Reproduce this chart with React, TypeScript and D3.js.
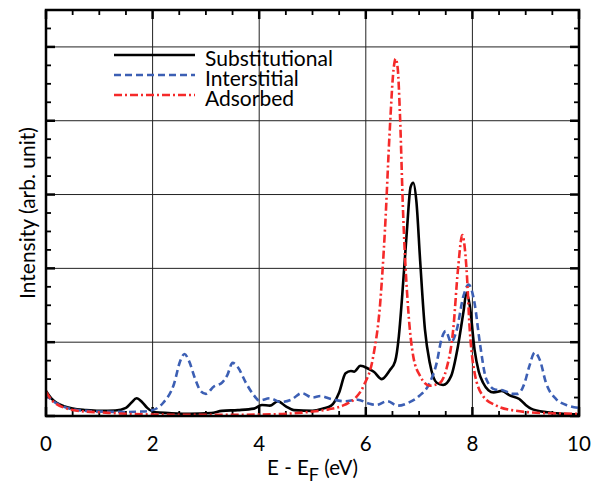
import React from "react";
import * as d3 from "d3";

const xTicks = [0, 2, 4, 6, 8, 10];
const seriesNames = ["Substitutional", "Interstitial", "Adsorbed"];

const substitutional: [number, number][] = [
  [0, 0.34], [0.1, 0.24], [0.2, 0.18], [0.35, 0.13], [0.5, 0.1], [0.75, 0.08], [1.0, 0.07], [1.3, 0.075],
  [1.5, 0.11], [1.6, 0.18], [1.7, 0.24], [1.8, 0.19], [1.9, 0.11], [2.05, 0.05], [2.3, 0.04], [2.7, 0.03],
  [3.1, 0.04], [3.3, 0.07], [3.6, 0.08], [3.9, 0.1], [4.05, 0.15], [4.2, 0.14], [4.35, 0.2], [4.5, 0.13],
  [4.65, 0.08], [5.0, 0.07], [5.2, 0.1], [5.35, 0.14], [5.5, 0.32], [5.62, 0.58], [5.72, 0.61], [5.78, 0.6],
  [5.9, 0.68], [6.05, 0.64], [6.15, 0.6], [6.3, 0.5], [6.45, 0.62], [6.55, 0.74], [6.62, 1.08], [6.68, 1.6],
  [6.77, 2.5], [6.84, 3.1], [6.89, 3.16], [6.95, 2.9], [7.02, 2.1], [7.11, 1.17], [7.2, 0.72], [7.33, 0.45],
  [7.45, 0.42], [7.6, 0.54], [7.73, 0.95], [7.83, 1.4], [7.89, 1.67], [7.95, 1.5], [8.04, 0.9], [8.12, 0.6],
  [8.2, 0.45], [8.3, 0.35], [8.4, 0.32], [8.55, 0.34], [8.7, 0.28], [8.88, 0.23], [9.0, 0.15], [9.1, 0.1],
  [9.4, 0.05], [9.7, 0.03], [10, 0.02],
];

const interstitial: [number, number][] = [
  [0, 0.3], [0.1, 0.22], [0.2, 0.17], [0.35, 0.12], [0.5, 0.09], [0.75, 0.07], [1.0, 0.06], [1.5, 0.055],
  [1.8, 0.06], [2.0, 0.08], [2.2, 0.18], [2.4, 0.43], [2.52, 0.75], [2.6, 0.84], [2.68, 0.75], [2.8, 0.5],
  [2.9, 0.34], [3.0, 0.3], [3.15, 0.4], [3.3, 0.45], [3.4, 0.55], [3.5, 0.72], [3.6, 0.66], [3.75, 0.45],
  [3.9, 0.28], [4.0, 0.21], [4.2, 0.24], [4.4, 0.19], [4.6, 0.22], [4.8, 0.31], [5.0, 0.25], [5.15, 0.27],
  [5.35, 0.23], [5.6, 0.2], [5.85, 0.22], [6.05, 0.17], [6.2, 0.15], [6.4, 0.2], [6.6, 0.14], [6.8, 0.18],
  [7.0, 0.27], [7.2, 0.45], [7.33, 0.72], [7.42, 1.04], [7.5, 1.15], [7.6, 1.0], [7.7, 1.15], [7.83, 1.62],
  [7.93, 1.78], [8.04, 1.53], [8.14, 0.99], [8.26, 0.5], [8.42, 0.36], [8.57, 0.35], [8.75, 0.3], [8.85, 0.3],
  [8.98, 0.45], [9.07, 0.68], [9.17, 0.86], [9.27, 0.75], [9.38, 0.45], [9.57, 0.23], [9.8, 0.14], [10, 0.11],
];

const adsorbed: [number, number][] = [
  [0, 0.33], [0.1, 0.22], [0.2, 0.16], [0.35, 0.11], [0.5, 0.08], [0.75, 0.06], [1.0, 0.05], [1.5, 0.03],
  [2.0, 0.02], [3.0, 0.015], [4.0, 0.02], [4.5, 0.03], [5.0, 0.06], [5.3, 0.09], [5.6, 0.15], [5.8, 0.24],
  [5.96, 0.41], [6.14, 0.81], [6.27, 1.53], [6.36, 2.53], [6.45, 3.88], [6.52, 4.69], [6.56, 4.84], [6.6, 4.7],
  [6.64, 4.1], [6.7, 2.75], [6.8, 1.4], [6.89, 0.81], [7.02, 0.54], [7.2, 0.41], [7.39, 0.45], [7.51, 0.63],
  [7.64, 1.17], [7.73, 1.99], [7.81, 2.45], [7.89, 1.99], [7.95, 1.17], [8.04, 0.59], [8.2, 0.27], [8.45, 0.14],
  [8.82, 0.07], [9.32, 0.04], [10, 0.03],
];

const W = 611, H = 490;
const L = 46, R = 579, T = 10, B = 416;
const FONT = "Lato, 'Open Sans', sans-serif";

export default function App() {
  const x = d3.scaleLinear().domain([0, 10]).range([L, R]);
  const y = d3.scaleLinear().domain([0, 5.5]).range([B, T]);
  const line = d3.line<[number, number]>().x(d => x(d[0])).y(d => y(d[1])).curve(d3.curveMonotoneX);

  const series = [
    { name: seriesNames[0], data: substitutional, color: "#000000", dash: "none" },
    { name: seriesNames[1], data: interstitial, color: "#3c5fb4", dash: "7,4" },
    { name: seriesNames[2], data: adsorbed, color: "#f52a2a", dash: "8,3,2,3" },
  ];

  const xMinor = d3.range(0, 10.001, 0.5);
  const yMinor = d3.range(0, 5.501, 0.25);
  const gridX = [2, 4, 6, 8];
  const gridY = [1, 2, 3, 4, 5];

  return (
    <svg width={W} height={H} style={{ position: "absolute", left: 0, top: 0, background: "#fff" }} fontFamily={FONT}>
      <defs>
        <clipPath id="plot">
          <rect x={L} y={T} width={R - L} height={B - T} />
        </clipPath>
      </defs>
      {gridX.map(v => (
        <line key={"gx" + v} x1={x(v)} x2={x(v)} y1={T} y2={B} stroke="#222" strokeWidth={1} />
      ))}
      {gridY.map(v => (
        <line key={"gy" + v} x1={L} x2={R} y1={y(v)} y2={y(v)} stroke="#222" strokeWidth={1} />
      ))}
      {xMinor.map(v => {
        const major = Math.abs(v / 2 - Math.round(v / 2)) < 1e-6;
        const len = major ? 9 : 5;
        return (
          <g key={"xt" + v}>
            <line x1={x(v)} x2={x(v)} y1={B} y2={B - len} stroke="#000" strokeWidth={major ? 2.5 : 1.8} />
            <line x1={x(v)} x2={x(v)} y1={T} y2={T + len} stroke="#000" strokeWidth={major ? 2.5 : 1.8} />
          </g>
        );
      })}
      {yMinor.map(v => {
        const major = Math.abs(v - Math.round(v)) < 1e-6;
        const len = major ? 9 : 5;
        return (
          <g key={"yt" + v}>
            <line x1={L} x2={L + len} y1={y(v)} y2={y(v)} stroke="#000" strokeWidth={major ? 2.5 : 1.8} />
            <line x1={R} x2={R - len} y1={y(v)} y2={y(v)} stroke="#000" strokeWidth={major ? 2.5 : 1.8} />
          </g>
        );
      })}
      <g clipPath="url(#plot)">
        {series.map(s => (
          <path key={s.name} d={line(s.data) || ""} fill="none" stroke={s.color} strokeWidth={2.6}
            strokeDasharray={s.dash} strokeLinejoin="round" />
        ))}
      </g>
      <rect x={L} y={T} width={R - L} height={B - T} fill="none" stroke="#000" strokeWidth={2.5} />
      {xTicks.map(v => (
        <text key={"xl" + v} x={x(v)} y={451} textAnchor="middle" fontSize={20.5} fill="#000">{v}</text>
      ))}
      <text x={(L + R) / 2} y={475} textAnchor="middle" fontSize={20.5} fill="#000">
        E - E<tspan dy={6} fontSize={18}>F</tspan><tspan dy={-6}> (eV)</tspan>
      </text>
      <text transform={`translate(35,${(T + B) / 2}) rotate(-90)`} textAnchor="middle" fontSize={21} fill="#000">
        Intensity (arb. unit)
      </text>
      {series.map((s, i) => {
        const ly = 55 + i * 20;
        return (
          <g key={"lg" + s.name}>
            <line x1={114} x2={195} y1={ly} y2={ly} stroke={s.color} strokeWidth={2.6} strokeDasharray={s.dash} />
            <text x={205} y={ly + 11} fontSize={21} fill="#000">{s.name}</text>
          </g>
        );
      })}
    </svg>
  );
}
